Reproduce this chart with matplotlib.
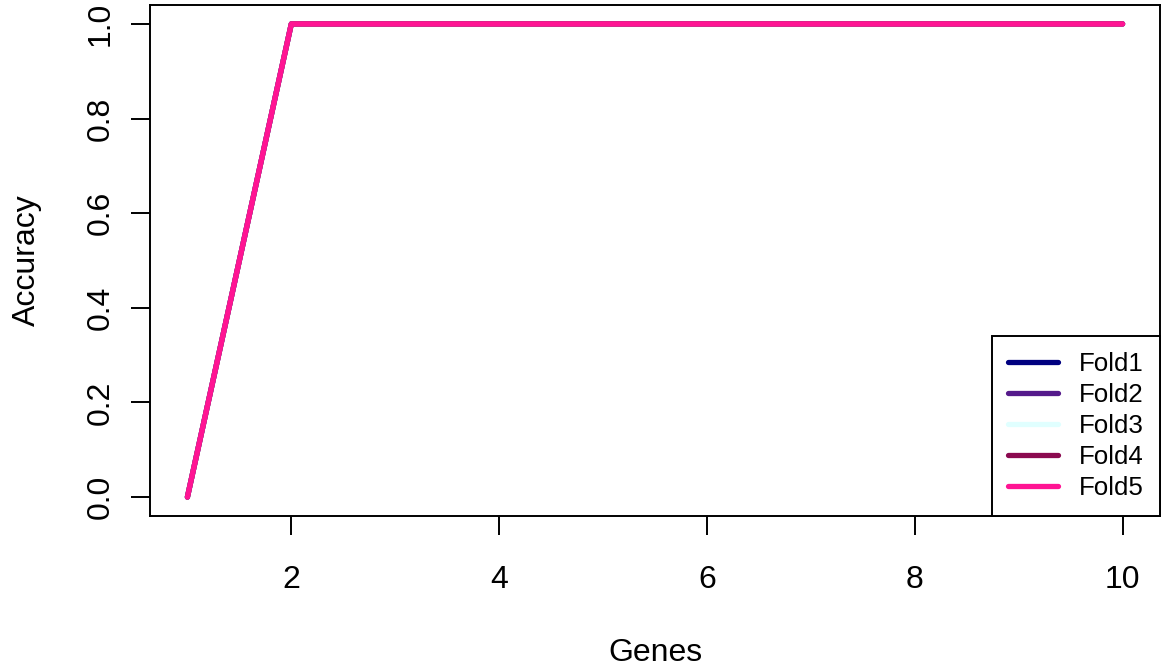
import matplotlib
matplotlib.use("Agg")
import matplotlib.pyplot as plt

plt.rcParams["font.family"] = ["Liberation Sans", "DejaVu Sans"]

genes = [1, 2, 3, 4, 5, 6, 7, 8, 9, 10]
fold1 = [0, 1, 1, 1, 1, 1, 1, 1, 1, 1]
fold2 = [0, 1, 1, 1, 1, 1, 1, 1, 1, 1]
fold3 = [0, 1, 1, 1, 1, 1, 1, 1, 1, 1]
fold4 = [0, 1, 1, 1, 1, 1, 1, 1, 1, 1]
fold5 = [0, 1, 1, 1, 1, 1, 1, 1, 1, 1]
fold_names = ["Fold1", "Fold2", "Fold3", "Fold4", "Fold5"]
colors = ["#000080", "#551A8B", "#E0FFFF", "#8B0A50", "#FF1493"]

W, H = 1162, 666
fig = plt.figure(figsize=(W / 100, H / 100), dpi=100)
ax = fig.add_axes([150 / W, (H - 516) / H, 1010 / W, 511 / H])

for vals, name, c in zip([fold1, fold2, fold3, fold4, fold5], fold_names, colors):
    ax.plot(genes, vals, color=c, lw=3.8, label=name, solid_capstyle="round")

ax.set_xlim(1 - 0.36, 10 + 0.36)
ax.set_ylim(-0.04, 1.04)
ax.set_xticks([2, 4, 6, 8, 10])
ax.set_yticks([0, 0.2, 0.4, 0.6, 0.8, 1.0])
ax.set_yticklabels(["0.0", "0.2", "0.4", "0.6", "0.8", "1.0"], rotation=90, va="center")
ax.tick_params(length=14, width=1.4, labelsize=23)
ax.tick_params(axis="x", pad=21)
ax.tick_params(axis="y", pad=11)
for s in ax.spines.values():
    s.set_linewidth(1.4)

ax.set_xlabel("Genes", fontsize=23, labelpad=31)
ax.set_ylabel("Accuracy", fontsize=23, labelpad=31)

leg = ax.legend(loc="lower right", bbox_to_anchor=(1.0, 0), borderaxespad=0,
                fontsize=18.6, frameon=True, fancybox=False, edgecolor="black",
                handlelength=1.95, handletextpad=0.8, labelspacing=0.27,
                borderpad=0.62)
leg.get_frame().set_linewidth(1.4)
leg.get_frame().set_alpha(1)

fig.savefig("out.png", dpi=100)
